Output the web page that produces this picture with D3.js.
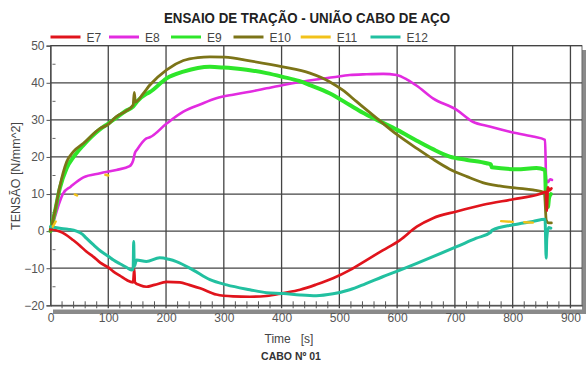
<!DOCTYPE html>
<html><head><meta charset="utf-8">
<script src="https://cdn.jsdelivr.net/npm/d3@7"></script>
<style>
body{margin:0;background:#fff;}
svg{display:block;font-family:"Liberation Sans",Arial,sans-serif;}
</style></head>
<body><svg id="c" width="587" height="367"></svg>
<script>
const seriesNames = ["E7","E8","E9","E10","E11","E12"];
const seriesColors = ["#e0141c","#e22be0","#2ee62a","#7c7418","#f2c21a","#22c0a0"];
const xTicks = [0,100,200,300,400,500,600,700,800,900];
const yTicks = [-20,-10,0,10,20,30,40,50];

const e7 = [[0,0.5],[8,0.3],[16,-0.1],[25,-0.8],[39,-2.4],[50,-3.8],[62,-5.5],[75,-7],[86,-8.5],[100,-9.8],[109,-10.9],[120,-12],[132,-13.2],[143,-13.8],[145,-10.2],[146,-13.8],[155,-14.6],[166,-15],[180,-14.5],[201,-13.7],[224,-13.8],[240,-14.5],[259,-15.4],[287,-17.1],[316,-17.6],[345,-17.7],[374,-17.5],[403,-16.7],[432,-15.8],[460,-14.4],[489,-12.7],[518,-10.5],[545,-8],[575,-5.2],[605,-2.4],[634,1.2],[662,3.5],[703,5.3],[749,7.1],[801,8.6],[847,10],[858,10.6],[859,5.5],[861,11.8],[864,11],[867,11.5]];
const e8 = [[0,0],[8,4],[15,7.5],[22,10.2],[35,12],[57,14.5],[86,15.6],[114,16.5],[137,17.5],[143,19],[146,21],[150,22],[166,25],[172,25.3],[201,29],[230,32.2],[260,34.2],[287,35.8],[316,36.8],[345,37.6],[374,38.5],[403,39.4],[432,40.2],[460,40.9],[489,41.5],[518,42.1],[547,42.3],[576,42.4],[599,42.1],[618,40.8],[634,39.2],[662,35.8],[703,32.7],[731,29.5],[760,28.2],[795,26.8],[835,25.5],[856,24.6],[858,14],[861,13.2],[865,14],[868,13.8]];
const e9 = [[0,0],[8,5.5],[16,11.5],[28,17],[40,20],[57,23.2],[86,27.5],[100,29],[114,30.6],[130,32.4],[143,33.6],[150,35],[166,37],[172,37.5],[201,41.2],[230,43],[255,44],[276,44.3],[300,44.1],[316,43.9],[345,43.4],[374,42.6],[402,41.6],[430,40.5],[449,39.4],[483,37.2],[518,34],[540,32],[565,30],[600,27.3],[634,24.4],[662,22.1],[691,20.1],[721,19.2],[755,18.3],[762,18],[764,17.2],[807,16.7],[841,17],[856,16.5],[858,7],[861,6.5],[863,9],[866,10]];
const e10 = [[0,0],[8,5.7],[16,12],[28,18.7],[40,21.5],[57,23.7],[86,27.7],[100,28.8],[114,30.9],[130,32.3],[143,34],[145,37.4],[147,34.8],[160,37],[172,39.4],[201,43.5],[230,46],[255,46.8],[276,47],[302,46.9],[345,45.9],[402,44.3],[449,42.6],[483,40.3],[506,38],[530,34.9],[565,30.4],[600,26],[634,22.3],[662,19.4],[691,16.7],[721,14.7],[748,13.1],[777,12.2],[807,11.6],[835,11.1],[855,10.4],[858,3],[862,2.2],[867,2.2]];
const e11 = [[4,1.2],[9,2.6],null,[42,9.9],[46,9.6],null,[95,15.2],[100,15],null,[780,2.7],[800,2.5],null,[820,2.4],[835,2.3]];
const e12 = [[0,1.2],[8,1],[16,0.8],[30,0.5],[45,0],[55,-0.8],[62,-1.9],[75,-3.8],[86,-5.3],[100,-6.8],[109,-7.8],[120,-8.8],[132,-9.8],[140,-10.5],[143,-10.3],[144,-2.8],[145,-9.5],[149,-7.8],[166,-8.2],[189,-7.2],[205,-7.6],[218,-8.2],[247,-10.5],[276,-13.1],[305,-14.5],[345,-15.8],[374,-16.6],[403,-16.8],[432,-17.2],[460,-17.4],[489,-16.9],[518,-15.8],[545,-14.2],[575,-12.3],[605,-10.5],[634,-8.7],[662,-6.9],[703,-4.2],[737,-1.9],[762,-0.3],[764,0.2],[801,1.7],[835,2.6],[856,3.2],[858,-7.3],[859,-2],[862,1],[866,0.8]];
const seriesData = [e7,e8,e9,e10,e11,e12];
const seriesWidth = [2.7,2.6,4,2.8,2.4,3];
const drawOrder = [1,2,3,0,5,4];

const svg = d3.select("#c");
const x = d3.scaleLinear().domain([0,920]).range([50.5,582]);
const y = d3.scaleLinear().domain([-20,50]).range([305.3,45.7]);

// shadow
svg.append("rect").attr("x",582).attr("y",50).attr("width",4).attr("height",264).attr("fill","#8a8a8a");
svg.append("rect").attr("x",53).attr("y",309.5).attr("width",533).attr("height",4.5).attr("fill","#8a8a8a");
svg.append("rect").attr("x",x(0)).attr("y",y(50)).attr("width",x(920)-x(0)).attr("height",y(-20)-y(50)).attr("fill","#fff").attr("stroke","#666").attr("stroke-width",1);

// grid
const grid = svg.append("g");
grid.selectAll(".vx").data(xTicks.filter(d=>d>0)).join("line")
  .attr("x1",d=>x(d)).attr("x2",d=>x(d)).attr("y1",y(50)).attr("y2",y(-20)+3)
  .attr("stroke","#444").attr("stroke-width",1.3);
grid.selectAll(".hy").data(yTicks.filter(d=>d>-20)).join("line")
  .attr("x1",x(0)).attr("x2",x(920)).attr("y1",d=>y(d)).attr("y2",d=>y(d))
  .attr("stroke","#444").attr("stroke-width",1.3);

// axes
const xAxis = d3.axisBottom(x).tickValues(xTicks).tickSize(0).tickPadding(8);
const gx = svg.append("g").attr("transform",`translate(0,${y(-20)})`).call(xAxis);
gx.select(".domain").attr("stroke","#444").attr("stroke-width",1.3);
gx.selectAll("text").attr("font-size",12).attr("fill","#555");
const minorX = d3.range(20,920,20).filter(d=>d%100!==0);
svg.append("g").selectAll("line").data(minorX).join("line")
  .attr("x1",d=>x(d)).attr("x2",d=>x(d)).attr("y1",y(-20)-4).attr("y2",y(-20)+3)
  .attr("stroke","#555").attr("stroke-width",1);

const yAxis = d3.axisLeft(y).tickValues(yTicks).tickSize(4).tickPadding(2);
const gy = svg.append("g").attr("transform",`translate(${x(0)},0)`).call(yAxis);
gy.select(".domain").attr("stroke","#444").attr("stroke-width",1.3);
gy.selectAll(".tick line").attr("stroke","#555");
gy.selectAll("text").attr("font-size",12).attr("fill","#555");
const minorY = d3.range(-15,50,10);
svg.append("g").selectAll("line").data(minorY).join("line")
  .attr("x1",x(0)+2).attr("x2",x(0)+5).attr("y1",d=>y(d)).attr("y2",d=>y(d))
  .attr("stroke","#666").attr("stroke-width",1);

// lines
const line = d3.line().defined(d=>d!==null).x(d=>x(d[0])).y(d=>y(d[1])).curve(d3.curveMonotoneX);
const lg = svg.append("g");
drawOrder.forEach(i=>{
  lg.append("path").datum(seriesData[i]).attr("d",line)
    .attr("fill","none").attr("stroke",seriesColors[i]).attr("stroke-width",seriesWidth[i])
    .attr("stroke-linejoin","round").attr("stroke-linecap","round");
});

// title
svg.append("text").attr("x",307).attr("y",23).attr("text-anchor","middle")
  .attr("font-size",14).attr("font-weight","bold").attr("fill","#222")
  .attr("textLength",286).attr("lengthAdjust","spacingAndGlyphs")
  .text("ENSAIO DE TRAÇÃO - UNIÃO CABO DE AÇO");

// legend
const legX = [50.5,109,171,233.5,300.7,370.5];
const leg = svg.append("g");
seriesNames.forEach((n,i)=>{
  leg.append("line").attr("x1",legX[i]).attr("x2",legX[i]+30).attr("y1",37).attr("y2",37)
    .attr("stroke",seriesColors[i]).attr("stroke-width",3);
  leg.append("text").attr("x",legX[i]+36).attr("y",41.5).attr("font-size",12).attr("fill","#444").text(n);
});

// axis titles
svg.append("text").attr("x",289).attr("y",343).attr("text-anchor","middle").attr("font-size",12).attr("fill","#444")
  .attr("xml:space","preserve").text("Time   [s]");
svg.append("text").attr("x",291).attr("y",360).attr("text-anchor","middle").attr("font-size",10.5).attr("font-weight","bold").attr("fill","#333")
  .text("CABO Nº 01");
svg.append("text").attr("transform","translate(20,176) rotate(-90)").attr("text-anchor","middle").attr("font-size",12.5).attr("fill","#444")
  .text("TENSÃO [N/mm^2]");
</script></body></html>
